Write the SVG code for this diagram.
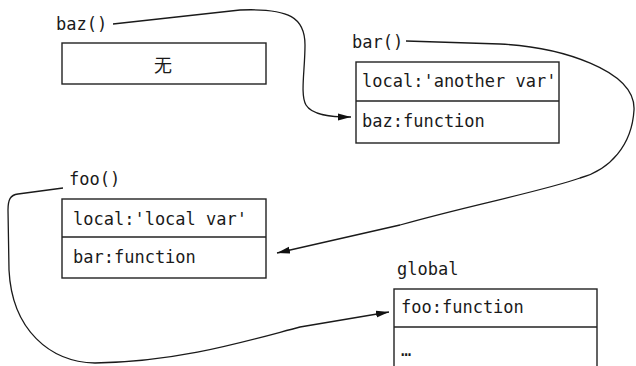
<svg xmlns="http://www.w3.org/2000/svg" width="636" height="366" viewBox="0 0 636 366">
<style>
.t{font-family:"DejaVu Sans Mono","Liberation Mono",monospace;font-size:17px;fill:#1a1a1a}
.cjk{font-family:"Noto Sans CJK SC","DejaVu Sans",sans-serif;font-size:18px;fill:#1a1a1a}
.box{fill:#fff;stroke:#222;stroke-width:1.4}
.div{stroke:#222;stroke-width:1.4}
.c{fill:none;stroke:#1a1a1a;stroke-width:1.3}
</style>
<defs>
<marker id="ah" markerUnits="userSpaceOnUse" markerWidth="14" markerHeight="8" refX="13" refY="4" orient="auto">
<path d="M0,0.5 L13,4 L0,7.5 Z" fill="#111"/>
</marker>
</defs>
<rect width="636" height="366" fill="#fff"/>
<g id="baz">
<text class="t" x="56" y="30">baz()</text>
<rect class="box" x="62" y="43" width="204" height="41"/>
<text class="cjk" x="163" y="72" text-anchor="middle">无</text>
</g>
<g id="bar">
<text class="t" x="352" y="48">bar()</text>
<rect class="box" x="356" y="62" width="203" height="81"/>
<line class="div" x1="356" y1="101" x2="559" y2="101"/>
<text class="t" x="362" y="87">local:'another var'</text>
<text class="t" x="362" y="127">baz:function</text>
</g>
<g id="foo">
<text class="t" x="69" y="185">foo()</text>
<rect class="box" x="62" y="199" width="204" height="79"/>
<line class="div" x1="62" y1="237" x2="266" y2="237"/>
<text class="t" x="73" y="225">local:'local var'</text>
<text class="t" x="73" y="263">bar:function</text>
</g>
<g id="global">
<text class="t" x="397" y="275">global</text>
<rect class="box" x="394" y="289" width="203" height="100"/>
<line class="div" x1="394" y1="327" x2="597" y2="327"/>
<text class="t" x="401" y="313">foo:function</text>
<text class="t" x="401" y="356">…</text>
</g>
<g id="connectors">
<path class="c" marker-end="url(#ah)" d="M113,24 L240,10 C290,8 305,18 305,45 C305,70 300,95 306,105 C312,115 330,117 351,117"/>
<path class="c" marker-end="url(#ah)" d="M406,41 L500,44 C560,47 636,70 634,110 C632,145 610,170 580,178 C540,192 470,205 400,225 L277,253"/>
<path class="c" marker-end="url(#ah)" d="M63,188 L18,194 C10,195 8,200 8,210 L9,270 C12,330 50,362 95,363 C180,362 250,340 300,327 L389,312"/>
</g>
</svg>
